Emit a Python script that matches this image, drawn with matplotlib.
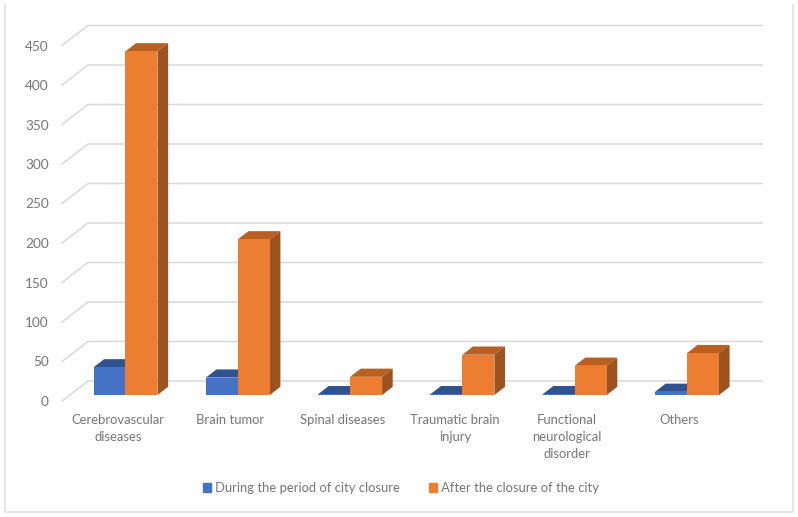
import matplotlib
matplotlib.use('Agg')
import matplotlib.pyplot as plt
from matplotlib.lines import Line2D
from matplotlib.patches import Rectangle

plt.rcParams['font.family'] = ['Lato', 'DejaVu Sans']

categories = ['Cerebrovascular\ndiseases', 'Brain tumor', 'Spinal diseases',
              'Traumatic brain\ninjury', 'Functional\nneurological\ndisorder', 'Others']
during = [35, 22, 1, 1, 1, 4]
after = [435, 197, 23, 51, 37, 53]
y_ticks = [0, 50, 100, 150, 200, 250, 300, 350, 400, 450]
series_names = ['During the period of city closure', 'After the closure of the city']

W, H = 798, 517
PX_X = 112.3   # pixels per category
PX_Y = 0.79    # pixels per unit
BAR_W = 32 / PX_X
DX = 10.6 / PX_X
DY = 8.2 / PX_Y
FRONT = -6 / PX_Y   # front edge of floor
BACK = 14 / PX_Y    # back wall zero
WALL_DX = 26 / PX_X
TEXT = '#767676'

fig = plt.figure(figsize=(W / 100, H / 100), dpi=100)
# frame has no top edge in the picture
fig.add_artist(Line2D([5 / W, 5 / W, 793 / W, 793 / W], [1 - 5 / H, 5 / H, 5 / H, 1 - 5 / H],
                      color='#e0e0e0', lw=1.2))

ax = fig.add_axes([62 / W, 1 - 401 / H, 700 / W, 376 / H])
x_left = -63.5 / PX_X
ax.set_xlim(x_left, x_left + 700 / PX_X)
ax.set_ylim(FRONT, FRONT + 376 / PX_Y)
for s in ax.spines.values():
    s.set_visible(False)

# walls
for v in y_ticks:
    ax.plot([x_left, x_left + WALL_DX, x_left + 700 / PX_X], [v + FRONT, v + BACK, v + BACK],
            color='#d9d9d9', lw=1.1, zorder=1, clip_on=False)


def bar3d(x, val, front, top, side):
    ax.bar(x, val, BAR_W, align='edge', color=front, zorder=3)
    ax.fill([x, x + DX, x + BAR_W + DX, x + BAR_W], [val, val + DY, val + DY, val],
            color=top, lw=0, zorder=2.8)
    ax.fill([x + BAR_W, x + BAR_W + DX, x + BAR_W + DX, x + BAR_W], [0, DY, val + DY, val],
            color=side, lw=0, zorder=2.8)


for i in range(len(categories)):
    bar3d(i - BAR_W, during[i], '#4472c4', '#30538f', '#2a4a80')
    bar3d(i, after[i], '#ed7d31', '#b85f22', '#9c5320')

ax.set_yticks([v + FRONT for v in y_ticks], [str(v) for v in y_ticks])
ax.set_xticks([i - 7.5 / PX_X for i in range(len(categories))], categories, linespacing=1.55)
ax.tick_params(axis='both', length=0, labelcolor=TEXT)
ax.tick_params(axis='y', pad=9.5, labelsize=9.8)
ax.tick_params(axis='x', pad=9, labelsize=9.4)

handles = [Rectangle((0, 0), 1, 1, color='#4472c4'), Rectangle((0, 0), 1, 1, color='#ed7d31')]
fig.legend(handles, series_names, loc='center', bbox_to_anchor=(401 / W, 1 - 488 / H), ncol=2,
           frameon=False, fontsize=9.4, labelcolor=TEXT, handlelength=0.6, handleheight=0.6,
           handletextpad=0.3, columnspacing=2.3)

fig.savefig('out.png', dpi=100)
